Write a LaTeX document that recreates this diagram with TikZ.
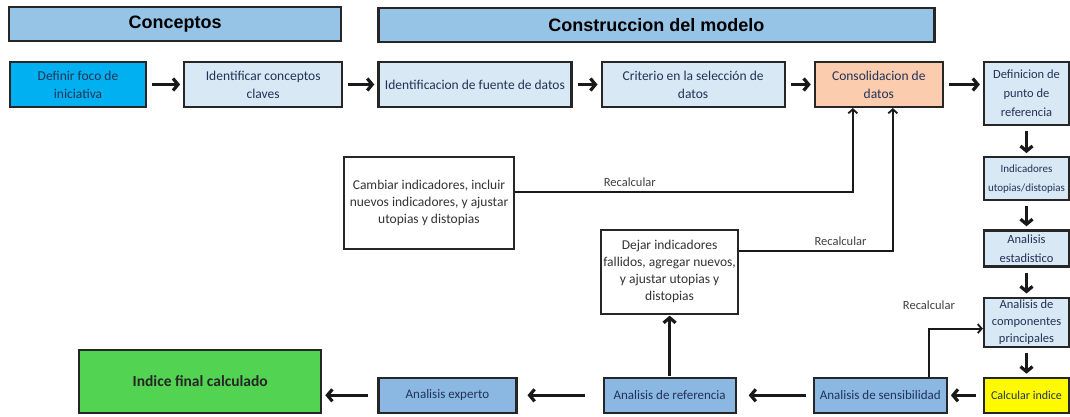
\documentclass[tikz,border=0pt]{standalone}
\usepackage{fontspec}
\setmainfont{Carlito}
\newfontfamily\headfont{Liberation Sans}
\usetikzlibrary{positioning,arrows.meta}

\definecolor{hdrblue}{RGB}{150,196,230}
\definecolor{paleblue}{RGB}{216,232,244}
\definecolor{midblue}{RGB}{138,184,227}
\definecolor{fococyan}{RGB}{0,176,240}
\definecolor{consolorange}{RGB}{251,204,174}
\definecolor{calcyellow}{RGB}{255,250,0}
\definecolor{finalgreen}{RGB}{82,212,82}
\definecolor{inktext}{RGB}{35,50,85}

\begin{document}
\begin{tikzpicture}[x=1pt,y=-1pt,
			>={Straight Barb[length=5pt,width=12pt]},
			box/.style={
				draw=black!85,
				line width=2.2pt,
				align=center,
				inner sep=2pt,
				text=inktext,
				font=\fontsize{13.5}{18}\selectfont
			},
			header/.style={box, fill=hdrblue, text=black,
				minimum height=34pt, font=\headfont\bfseries\fontsize{18}{20}\selectfont},
			rowbox/.style={box, fill=paleblue, minimum height=45pt},
			colbox/.style={box, fill=paleblue, minimum width=85pt,
				font=\fontsize{12.5}{19}\selectfont},
			lowbox/.style={box, fill=midblue, minimum height=35pt,
				font=\fontsize{13}{15}\selectfont},
			notebox/.style={box, fill=white, text=black!80, line width=1.8pt,
				font=\fontsize{13.5}{17}\selectfont},
			flow/.style={->, line width=3.2pt, draw=black!90,
				shorten >=3pt, shorten <=5pt},
			back/.style={->, line width=1.8pt, draw=black!90,
				>={Straight Barb[length=4pt,width=9pt]}},
			tag/.style={text=black!75, font=\fontsize{12.5}{14}\selectfont}
		]
			\useasboundingbox (0,0) rectangle (1070,417);
			
			% first row
			\node (foco)[rowbox, fill=fococyan, minimum width=136pt] at (78,84.5){Definir foco de\\iniciativa};
			
			\node (claves)[rowbox, minimum width=158pt, right=36pt of foco]{Identificar conceptos\\claves};
			
			\node (fuente)[rowbox, minimum width=193pt, right=34pt of claves]{Identificacion de fuente de datos};
			
			\node (criterio)[rowbox, minimum width=183pt, right=28pt of fuente]{Criterio en la selección de\\datos};
			
			\node (consol)[rowbox, fill=consolorange, minimum width=128pt, right=28pt of criterio]{Consolidacion de\\datos};
			
			% headers
			\node (hdrconc)[header, minimum width=332pt, anchor=north west] at (8,6){Conceptos};
			
			\node (hdrmod)[header, minimum width=556pt, above=18pt of fuente.north west, anchor=south west]{Construccion del modelo};
			
			% right column
			\node (defpunto)[colbox, minimum height=63pt, right=39pt of consol.north east, anchor=north west]{Definicion de\\punto de\\referencia};
			
			\node (indic)[colbox, minimum height=43pt, below=30pt of defpunto, font=\fontsize{11}{19}\selectfont]{Indicadores\\utopias/distopias};
			
			\node (estad)[colbox, minimum height=36pt, below=28pt of indic]{Analisis\\estadistico};
			
			\node (compon)[colbox, minimum height=49pt, below=29pt of estad, font=\fontsize{12.5}{17}\selectfont]{Analisis de\\componentes\\principales};
			
			\node (calc)[colbox, fill=calcyellow, minimum height=35pt, below=29pt of compon, font=\fontsize{12}{15}\selectfont]{Calcular indice};
			
			% bottom row
			\node (sensib)[lowbox, minimum width=133pt, left=35pt of calc]{Analisis de sensibilidad};
			
			\node (refer)[lowbox, minimum width=132pt, left=76pt of sensib]{Analisis de referencia};
			
			\node (experto)[lowbox, minimum width=138pt, left=85pt of refer]{Analisis experto};
			
			\node (final)[box, fill=finalgreen, text=black!85, minimum width=242pt, minimum height=63pt,
				left=55pt of experto.south west, anchor=south east,
				font=\bfseries\fontsize{15.5}{18}\selectfont]{Indice final calculado};
			
			% feedback notes
			\node (cambiar)[notebox, minimum width=170pt, minimum height=92pt] at (429,203){Cambiar indicadores, incluir\\nuevos indicadores, y ajustar\\utopias y distopias};
			
			\node (dejar)[notebox, minimum width=137pt, minimum height=84pt, above=62pt of refer]{Dejar indicadores\\fallidos, agregar nuevos,\\y ajustar utopias y\\distopias};
			
			% main flow
			\draw[flow](foco)--(claves);
			
			\draw[flow](claves)--(fuente);
			
			\draw[flow](fuente)--(criterio);
			
			\draw[flow](criterio)--(consol);
			
			\draw[flow](consol.east)--(consol.east -| defpunto.west);
			
			\draw[flow](defpunto)--(indic);
			
			\draw[flow](indic)--(estad);
			
			\draw[flow](estad)--(compon);
			
			\draw[flow](compon)--(calc);
			
			\draw[flow, shorten <=7pt](calc)--(sensib);
			
			\draw[flow, shorten <=7pt, shorten >=12pt](sensib)--(refer);
			
			\draw[flow, shorten <=18pt, shorten >=10pt](refer)--(experto);
			
			\draw[flow, shorten <=9pt](experto.west)--(experto.west -| final.east);
			
			\draw[flow, shorten >=1pt, shorten <=1pt](refer.north)--(refer.north |- dejar.south);
			
			% recalculation loops
			\draw[back]([yshift=11pt]cambiar.east) -| ([xshift=-26pt]consol.south)
				node[tag, pos=0.17, above=1pt]{Recalcular};
			
			\draw[back]([yshift=21pt]dejar.east) -| ([xshift=14pt]consol.south)
				node[tag, pos=0.33, above=1pt]{Recalcular};
			
			\draw[back]([xshift=-19pt]sensib.north east) |- ([yshift=-6.5pt]compon.west)
				node[tag, pos=0.5, above=15pt]{Recalcular};
			
		\end{tikzpicture}
\end{document}
